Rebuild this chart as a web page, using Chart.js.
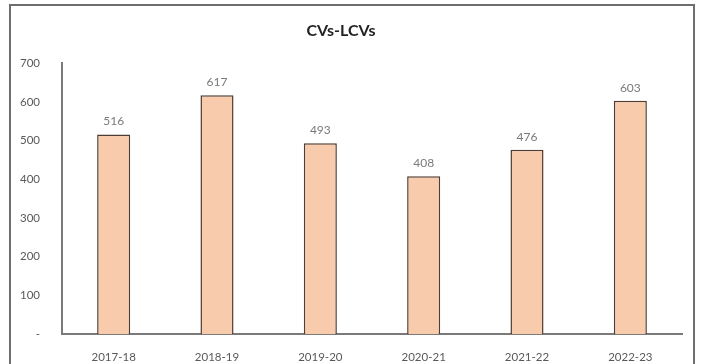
<!DOCTYPE html>
<html>
<head>
<meta charset="utf-8">
<script src="https://cdn.jsdelivr.net/npm/chart.js@4"></script>
<style>
  html, body { margin: 0; padding: 0; background: #fff; }
  #wrap { position: relative; width: 702px; height: 364px; }
  #frame { position: absolute; left: 9px; top: 4px; width: 686px; height: 370px;
           border: 2px solid #6e6e6e; box-sizing: border-box; pointer-events: none; }
</style>
</head>
<body>
<div id="wrap">
  <canvas id="cvChart" width="702" height="364"></canvas>
  <div id="frame"></div>
</div>
<script>
const years = ['2017-18', '2018-19', '2019-20', '2020-21', '2021-22', '2022-23'];
const units = [516, 617, 493, 408, 476, 603];
const yTicks = [0, 100, 200, 300, 400, 500, 600, 700];

// value labels above each bar
const barLabels = {
  id: 'barLabels',
  afterDatasetsDraw(chart) {
    const c = chart.ctx;
    c.save();
    c.font = '12px Lato';
    c.fillStyle = '#7a7a7a';
    c.textAlign = 'center';
    c.textBaseline = 'bottom';
    chart.getDatasetMeta(0).data.forEach((bar, i) => {
      c.fillText(units[i], bar.x, bar.y - 7);
    });
    c.restore();
  }
};

const ctx = document.getElementById('cvChart').getContext('2d');
new Chart(ctx, {
  type: 'bar',
  data: {
    labels: years,
    datasets: [{
      label: 'CVs-LCVs',
      data: units,
      backgroundColor: '#f8cbad',
      borderColor: '#4f3d33',
      borderWidth: 1.5,
      categoryPercentage: 0.8,
      barPercentage: 0.4
    }]
  },
  options: {
    responsive: false,
    animation: false,
    layout: { padding: { left: 0, right: 20, top: 0, bottom: 0 } },
    plugins: {
      legend: { display: false },
      tooltip: { enabled: false },
      title: {
        display: true,
        text: 'CVs-LCVs',
        color: '#222',
        font: { family: 'Lato', size: 16, weight: 'bold' },
        padding: { top: 21, bottom: 23 }
      }
    },
    scales: {
      x: {
        grid: { display: false },
        border: { display: true, color: '#7a7a7a', width: 2 },
        ticks: { color: '#595959', font: { family: 'Lato', size: 11.5 }, padding: 8, maxRotation: 0 },
        afterFit: s => { s.height = 30; }
      },
      y: {
        min: 0,
        max: 700,
        afterBuildTicks: s => { s.ticks = yTicks.map(v => ({ value: v })); },
        grid: { display: false },
        border: { display: true, color: '#7a7a7a', width: 2 },
        ticks: {
          color: '#595959',
          font: { family: 'Lato', size: 11.5 },
          padding: 14,
          callback: v => v === 0 ? '-' : v
        },
        afterFit: s => { s.width = 62; }
      }
    }
  },
  plugins: [barLabels]
});
</script>
</body>
</html>
